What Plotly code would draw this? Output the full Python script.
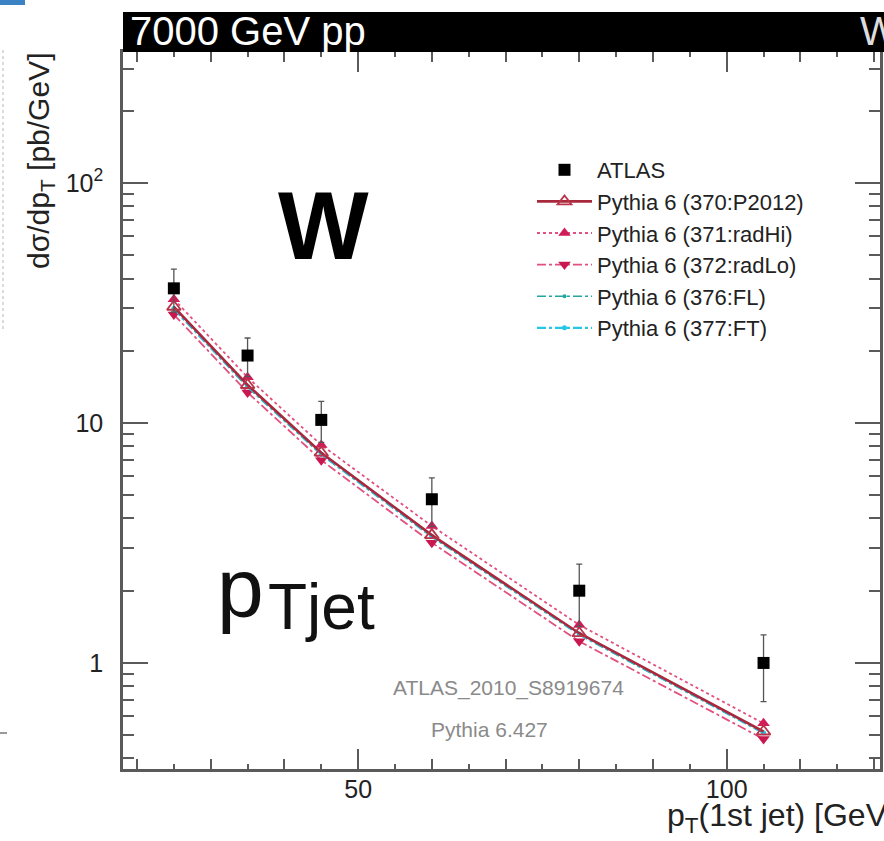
import plotly.graph_objects as go

# ---------------- data ----------------
pt_jet = [25, 35, 45, 60, 80, 105]
atlas_vals = [36.4, 19.1, 10.3, 4.81, 2.0, 1.0]
atlas_errs = [7.4, 3.5, 2.0, 1.1, 0.58, 0.31]
p370_P2012 = [30.5, 14.4, 7.52, 3.41, 1.33, 0.518]
p371_radHi = [32.8, 15.5, 8.1, 3.72, 1.44, 0.56]
p372_radLo = [28.3, 13.4, 7.0, 3.17, 1.23, 0.482]
p376_FL = [29.8, 14.1, 7.38, 3.35, 1.31, 0.51]
p377_FT = [30.0, 14.2, 7.42, 3.37, 1.32, 0.512]

y_major = [1, 10, 100]
y_tickvals = [0.4, 0.5, 0.6, 0.7, 0.8, 0.9, 1, 2, 3, 4, 5, 6, 7, 8, 9, 10,
              20, 30, 40, 50, 60, 70, 80, 90, 100, 200, 300]
y_ticktext = ["", "", "", "", "", "", "1", "", "", "", "", "", "", "", "", "10",
              "", "", "", "", "", "", "", "", "10<sup>2</sup>", "", ""]
x_major = [50, 100]
x_tickvals = [20, 30, 40, 50, 60, 70, 80, 90, 100, 110, 120]
x_ticktext = ["", "", "", "50", "", "", "", "", "100", "", ""]

W, H = 884, 841
ML, MR, MT, MB = 123, 4, 52, 72
PW = W - ML - MR
PH = H - MT - MB


def px(x):
    return (x - ML) / PW


def py(y):
    return 1 - (y - MT) / PH


AX = "#5a5a5a"
FONT = "Liberation Sans, Arial, Helvetica, sans-serif"
XR = [18.1, 120.8]
YR = [-0.442, 2.546]

fig = go.Figure()

fig.add_trace(go.Scatter(
    x=pt_jet, y=p371_radHi, name="Pythia 6 (371:radHi)", legendrank=3,
    mode="lines+markers", line=dict(color="#e2507f", width=1.8, dash="dot"),
    marker=dict(symbol="triangle-up", size=11, color="#d01c58")))
fig.add_trace(go.Scatter(
    x=pt_jet, y=p372_radLo, name="Pythia 6 (372:radLo)", legendrank=4,
    mode="lines+markers", line=dict(color="#e2507f", width=1.8, dash="dashdot"),
    marker=dict(symbol="triangle-down", size=11, color="#c8184f")))
fig.add_trace(go.Scatter(
    x=pt_jet, y=p376_FL, name="Pythia 6 (376:FL)", legendrank=5,
    mode="lines+markers", line=dict(color="#23a6a0", width=1.6, dash="dashdot"),
    marker=dict(symbol="circle", size=4, color="#23a6a0")))
fig.add_trace(go.Scatter(
    x=pt_jet, y=p377_FT, name="Pythia 6 (377:FT)", legendrank=6,
    mode="lines+markers", line=dict(color="#25c6e6", width=2.2, dash="dashdot"),
    marker=dict(symbol="circle", size=5, color="#25c6e6")))
fig.add_trace(go.Scatter(
    x=pt_jet, y=p370_P2012, name="Pythia 6 (370:P2012)", legendrank=2,
    mode="lines+markers", line=dict(color="#a8283c", width=2.6),
    marker=dict(symbol="triangle-up-open", size=12, color="#b8344a", line=dict(width=1.8))))
fig.add_trace(go.Scatter(
    x=pt_jet, y=atlas_vals, name="ATLAS", legendrank=1,
    mode="markers",
    error_y=dict(type="data", array=atlas_errs, color="#555555", thickness=1.3, width=3),
    marker=dict(symbol="square", size=12, color="black")))

# invisible helper trace so the overlay axes (long major ticks) are drawn
fig.add_trace(go.Scatter(x=[50], y=[1], xaxis="x2", yaxis="y2", mode="markers",
                         marker=dict(opacity=0), showlegend=False, hoverinfo="skip"))

shapes = [
    dict(type="rect", xref="paper", yref="paper", x0=0, x1=1.05,
         y0=1, y1=py(12), fillcolor="black", line=dict(width=0), layer="above"),
    dict(type="line", xref="paper", yref="paper", x0=px(3), x1=px(3),
         y0=py(50), y1=py(330), line=dict(color="#cfcfcf", width=1.5, dash="dot")),
    dict(type="line", xref="paper", yref="paper", x0=px(0), x1=px(7),
         y0=py(733), y1=py(733), line=dict(color="#777777", width=1.5)),
    dict(type="rect", xref="paper", yref="paper", x0=px(0), x1=px(25),
         y0=py(5), y1=py(0), fillcolor="#3b82c4", line=dict(width=0)),
]

annotations = [
    dict(text="7000 GeV pp", x=px(128), y=py(31), xref="paper", yref="paper",
         xanchor="left", yanchor="middle", showarrow=False,
         font=dict(family=FONT, size=40, color="white")),
    dict(text="W", x=px(858), y=py(31), xref="paper", yref="paper",
         xanchor="left", yanchor="middle", showarrow=False,
         font=dict(family=FONT, size=40, color="#dddddd")),
    dict(text="<b>W</b>", x=px(323), y=py(226), xref="paper", yref="paper",
         xanchor="center", yanchor="middle", showarrow=False,
         font=dict(family=FONT, size=96, color="black")),
    dict(text="p", x=px(215), y=py(588), xref="paper", yref="paper",
         xanchor="left", yanchor="middle", showarrow=False,
         font=dict(family=FONT, size=84, color="#111111")),
    dict(text="Tjet", x=px(266), y=py(607), xref="paper", yref="paper",
         xanchor="left", yanchor="middle", showarrow=False,
         font=dict(family=FONT, size=64, color="#111111")),
    dict(text="ATLAS_2010_S8919674", x=px(509), y=py(688), xref="paper", yref="paper",
         xanchor="center", yanchor="middle", showarrow=False,
         font=dict(family=FONT, size=21, color="#8a8a8a")),
    dict(text="Pythia 6.427", x=px(489), y=py(729), xref="paper", yref="paper",
         xanchor="center", yanchor="middle", showarrow=False,
         font=dict(family=FONT, size=21, color="#8a8a8a")),
    dict(text="p<sub>T</sub>(1st jet) [GeV]", x=px(898), y=py(817), xref="paper", yref="paper",
         xanchor="right", yanchor="middle", showarrow=False,
         font=dict(family=FONT, size=32, color="#222222")),
    dict(text="dσ/dp<sub>T</sub> [pb/GeV]", x=px(40), y=py(161), xref="paper", yref="paper",
         xanchor="center", yanchor="middle", showarrow=False, textangle=-90,
         font=dict(family=FONT, size=30, color="#222222")),
]

fig.update_layout(
    width=W, height=H,
    margin=dict(l=ML, r=MR, t=MT, b=MB, pad=0, autoexpand=False),
    paper_bgcolor="white", plot_bgcolor="white",
    font=dict(family=FONT, color="#222222"),
    showlegend=True,
    legend=dict(x=px(532), y=py(149), xanchor="left", yanchor="top",
                bgcolor="rgba(0,0,0,0)", font=dict(size=22, color="#222222"),
                itemwidth=55, tracegroupgap=0),
    shapes=shapes,
    annotations=annotations,
    xaxis=dict(range=XR, showgrid=False, zeroline=False, automargin=False,
               showline=True, linecolor=AX, linewidth=2.5, mirror="allticks",
               ticks="inside", tickvals=x_tickvals, ticktext=x_ticktext,
               ticklen=10, tickwidth=1.5, tickcolor=AX, ticklabelstandoff=-4,
               tickfont=dict(size=25, color="#222222"),
               minor=dict(dtick=5, tick0=0, ticks="inside", ticklen=5, tickwidth=1.5,
                          tickcolor=AX, showgrid=False)),
    xaxis2=dict(range=XR, overlaying="x", side="bottom", showgrid=False, automargin=False,
                zeroline=False, showline=False, mirror="allticks",
                ticks="inside", tickvals=x_major, ticklen=20, tickwidth=2,
                tickcolor=AX, showticklabels=False),
    yaxis=dict(type="log", range=YR, showgrid=False, zeroline=False, automargin=False,
               showline=True, linecolor=AX, linewidth=2.5, mirror="allticks",
               ticks="inside", tickvals=y_tickvals, ticktext=y_ticktext,
               ticklen=11, tickwidth=1.5, tickcolor=AX,
               ticklabelstandoff=12,
               tickfont=dict(size=25, color="#222222")),
    yaxis2=dict(type="log", range=YR, overlaying="y", side="left", showgrid=False,
                automargin=False, zeroline=False, showline=False, mirror="allticks",
                ticks="inside", tickvals=y_major, ticklen=25, tickwidth=2,
                tickcolor=AX, showticklabels=False),
)

fig.write_html(
    "out.html",
    config={"displayModeBar": False},
    post_script="document.body.style.margin='0';document.body.style.overflow='hidden';",
)
